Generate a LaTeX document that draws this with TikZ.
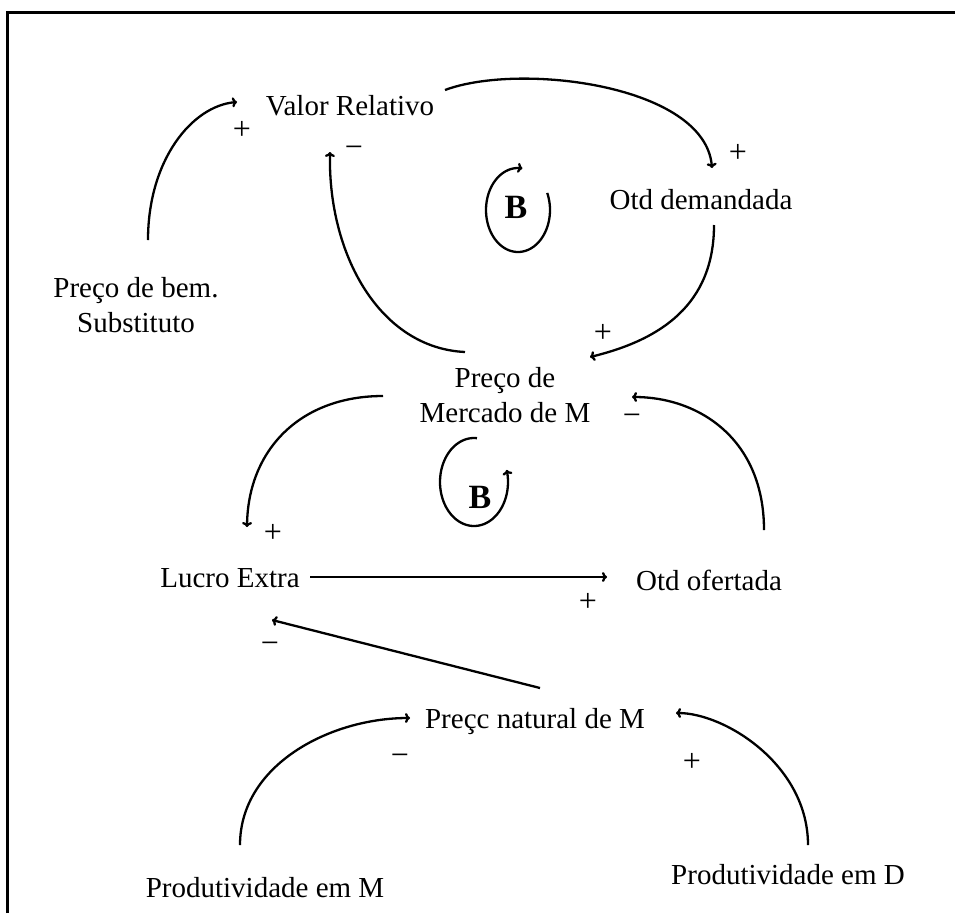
\documentclass[tikz,border=0pt]{standalone}
\usepackage{fontspec}
\setmainfont{Liberation Serif}
\usetikzlibrary{arrows.meta}
\tikzset{
  lbl/.style={font=\fontsize{29}{35}\selectfont, inner sep=0pt, align=center},
  sgn/.style={font=\fontsize{32}{34}\selectfont, inner sep=0pt},
  bigB/.style={font=\fontsize{34}{38}\selectfont\bfseries, inner sep=0pt},
  link/.style={line width=2.3pt, -{To[length=5pt,width=10pt]}},
  linkrev/.style={line width=2.3pt, {To[length=5pt,width=10pt]}-},
  frame/.style={line width=3pt}
}
\begin{document}
\begin{tikzpicture}[x=1pt,y=-1pt]
\useasboundingbox (0,0) rectangle (955,913);
\draw[frame] (7,913) -- (7,12) -- (955,12);

% nodes
\node[lbl] (valor)   at (350,106) {Valor Relativo};
\node[lbl] (otddem)  at (701,200) {Otd demandada};
\node[lbl] (subst)   at (136,305) {Preço de bem.\\Substituto};
\node[lbl] (preco)   at (505,395) {Preço de\\Mercado de M};
\node[lbl] (lucro)   at (230,578) {Lucro Extra};
\node[lbl] (otdof)   at (709,580) {Otd ofertada};
\node[lbl] (natural) at (535,722) {Preçc natural de M};
\node[lbl] (prodM)   at (265,888) {Produtividade em M};
\node[lbl] (prodD)   at (788,875) {Produtividade em D};

% connector end points
\coordinate (s1) at (148,240); \coordinate (e1) at (237,102);
\coordinate (s2) at (445,90);  \coordinate (e2) at (712,168);
\coordinate (s3) at (465,352); \coordinate (e3) at (330,152);
\coordinate (s4) at (714,225); \coordinate (e4) at (590,357);
\coordinate (s5) at (383,396); \coordinate (e5) at (247,527);
\coordinate (s6) at (764,530); \coordinate (e6) at (632,397);
\coordinate (s7) at (310,577); \coordinate (e7) at (607,577);
\coordinate (s8) at (540,688); \coordinate (e8) at (272,620);
\coordinate (s9) at (240,845); \coordinate (e9) at (410,718);
\coordinate (s10) at (808,845); \coordinate (e10) at (676,713);

% connectors
\draw[link] (s1) .. controls (148,160) and (192,106) .. (e1);
\draw[link] (s2) .. controls (520,62) and (705,85) .. (e2);
\draw[link] (s3) .. controls (380,348) and (328,255) .. (e3);
\draw[link] (s4) .. controls (714,305) and (660,340) .. (e4);
\draw[link] (s5) .. controls (300,396) and (248,450) .. (e5);
\draw[link] (s6) .. controls (764,440) and (700,397) .. (e6);
\draw[link] (s7) -- (e7);
\draw[link] (s8) -- (e8);
\draw[link] (s9) .. controls (240,765) and (330,718) .. (e9);
\draw[link] (s10) .. controls (808,765) and (725,713) .. (e10);

% loop markers
\draw[link] plot[domain=-24:278, samples=80, smooth] ({518+32*cos(\x)},{210+42*sin(\x)});
\draw[linkrev] plot[domain=-16:275, samples=80, smooth] ({474+34*cos(\x)},{482+44*sin(\x)});
\node[bigB] (b1) at (516,207) {B};
\node[bigB] (b2) at (480,497) {B};

% polarity signs
\node[sgn] (p1)  at (242,130) {+};
\node[sgn] (p2)  at (354,152) {−};
\node[sgn] (p3)  at (738,153) {+};
\node[sgn] (p4)  at (603,333) {+};
\node[sgn] (p5)  at (632,420) {−};
\node[sgn] (p6)  at (273,533) {+};
\node[sgn] (p7)  at (588,602) {+};
\node[sgn] (p8)  at (270,648) {−};
\node[sgn] (p9)  at (400,760) {−};
\node[sgn] (p10) at (692,762) {+};
\end{tikzpicture}
\end{document}
